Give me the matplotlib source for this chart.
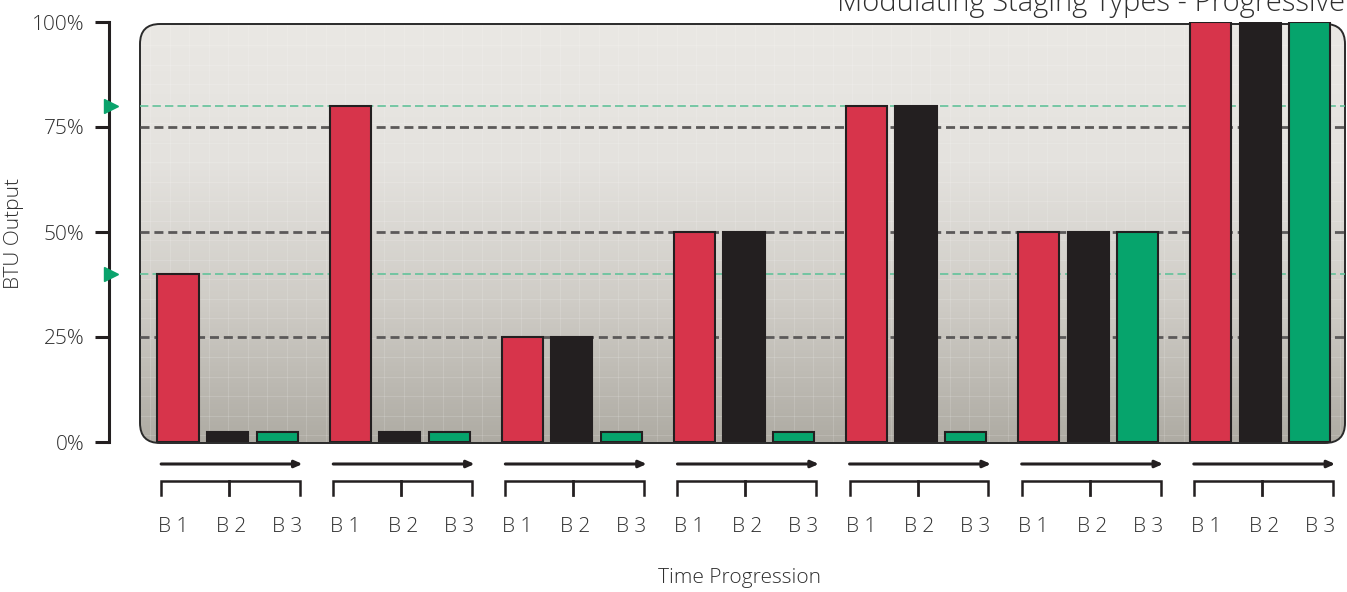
import numpy as np
import matplotlib
matplotlib.use("Agg")
import matplotlib.pyplot as plt
from matplotlib.patches import FancyBboxPatch
from matplotlib.colors import LinearSegmentedColormap
import matplotlib.transforms as mtransforms

plt.rcParams['font.family'] = ['Open Sans', 'DejaVu Sans']
plt.rcParams['lines.scale_dashes'] = False

# ---- data ----
groups = 7
burners = ["B 1", "B 2", "B 3"]
b1_values = [40, 80, 25, 50, 80, 50, 100]
b2_values = [2.5, 2.5, 25, 50, 80, 50, 100]
b3_values = [2.5, 2.5, 2.5, 2.5, 2.5, 50, 100]
yticks = [0, 25, 50, 75, 100]
ytick_labels = ["0%", "25%", "50%", "75%", "100%"]
threshold_levels = [80, 40]
title = "Modulating Staging Types - Progressive"
ylabel = "BTU Output"
xlabel = "Time Progression"

colors = ["#d7344b", "#231f20", "#06a46c"]
txt_color = '#2f2f2f'
W, H = 1347, 592
fig = plt.figure(figsize=(W / 100, H / 100), dpi=100)

# background axes in pixel coordinates
bg = fig.add_axes([0, 0, 1, 1])
bg.set_xlim(0, W)
bg.set_ylim(0, H)
bg.axis('off')

px_l, px_r, px_t, px_b = 140, 1345, 24, 443
panel = FancyBboxPatch((px_l, H - px_b), px_r - px_l, px_b - px_t,
                       boxstyle="round,pad=0,rounding_size=20",
                       facecolor='none', edgecolor='#2a2a2a', lw=1.4, zorder=3)
bg.add_patch(panel)
cmap = LinearSegmentedColormap.from_list("g", ["#aeaba3", "#cfccc6", "#e4e2de", "#eae8e4"])
grad = np.linspace(0, 1, 256).reshape(-1, 1)
im = bg.imshow(grad, cmap=cmap, origin='lower', aspect='auto',
               extent=(px_l, px_r, H - px_b, H - px_t), zorder=1)
im.set_clip_path(panel)
# faint graph-paper texture
for xv in np.arange(px_l + 10, px_r, 19.5):
    ln = bg.plot([xv, xv], [H - px_b, H - px_t], color='white', lw=0.8, alpha=0.14, zorder=2)[0]
    ln.set_clip_path(panel)
for yv in np.arange(H - px_b + 8, H - px_t, 19.5):
    ln = bg.plot([px_l, px_r], [yv, yv], color='white', lw=0.8, alpha=0.14, zorder=2)[0]
    ln.set_clip_path(panel)

# main axes
ax = fig.add_axes([px_l / W, (H - 442) / H, (px_r - px_l) / W, 420 / H])
ax.patch.set_visible(False)
unit = 49.6
gstep = 3.47
x0 = 178
ax.set_xlim((px_l - x0) / unit, (px_r - x0) / unit)
ax.set_ylim(0, 100)

for s in ['top', 'right', 'bottom']:
    ax.spines[s].set_visible(False)
ax.spines['left'].set_position(('outward', 22))
ax.spines['left'].set_linewidth(2.2)
ax.spines['left'].set_color('#231f20')
ax.set_xticks([])
ax.set_yticks(yticks)
ax.set_yticklabels(ytick_labels)
ax.tick_params(axis='y', length=10, width=2.2, color='#231f20', labelsize=15,
               labelcolor=txt_color, pad=8)
for t in ax.get_yticklabels():
    t.set_fontweight('light')

# reference lines
for lv in [25, 50, 75]:
    ax.axhline(lv, color='#5b5959', lw=2.0, linestyle=(0, (6.5, 3.5)), zorder=1)
for lv in threshold_levels:
    ax.axhline(lv, color='#62c29a', lw=1.2, linestyle=(0, (6, 3)), zorder=1)
tri_tr = mtransforms.blended_transform_factory(ax.transAxes, ax.transData)
ax.plot([(111 - px_l) / (px_r - px_l)] * len(threshold_levels), threshold_levels,
        marker='>', linestyle='none', markersize=10.5, color='#0aa36c',
        transform=tri_tr, clip_on=False, zorder=5)

# bars
series = [b1_values, b2_values, b3_values]
gidx = np.arange(groups)
for k, vals in enumerate(series):
    ax.bar(gidx * gstep + k, vals, width=0.83, color=colors[k],
           edgecolor='#231f20', linewidth=1.5, zorder=3)

# group annotations below
def py(p):
    return (442 - p) / 4.2

for g in range(groups):
    base = g * gstep
    xa0, xa1 = base - 0.34, base + 2.46
    ax.annotate("", xy=(xa1 + 0.05, py(464)), xytext=(xa0, py(464)),
                arrowprops=dict(arrowstyle="-|>,head_length=0.45,head_width=0.2",
                                color='#231f20', lw=2.2, shrinkA=0, shrinkB=0),
                annotation_clip=False)
    ax.plot([xa0, xa0, xa1, xa1], [py(495), py(481), py(481), py(495)],
            color='#231f20', lw=1.8, clip_on=False, solid_joinstyle='miter')
    ax.plot([base + 1.03, base + 1.03], [py(481), py(495)], color='#231f20',
            lw=2.0, clip_on=False)
    for k, lab in enumerate(burners):
        ax.text(base + [-0.1, 1.07, 2.2][k], py(527), lab, ha='center', va='center',
                fontsize=15, fontweight='light', color=txt_color, clip_on=False)

fig.text(14 / W, 1 - 233 / H, ylabel, rotation=90, ha='center', va='center',
         fontsize=15, fontweight='light', color=txt_color)
fig.text(740 / W, 1 - 578 / H, xlabel, ha='center', va='center',
         fontsize=15, fontweight='light', color=txt_color)
fig.text(1345 / W, 1 - 11 / H, title, ha='right', va='baseline',
         fontsize=21, fontweight='light', color=txt_color)

fig.savefig("out.png", dpi=100)
